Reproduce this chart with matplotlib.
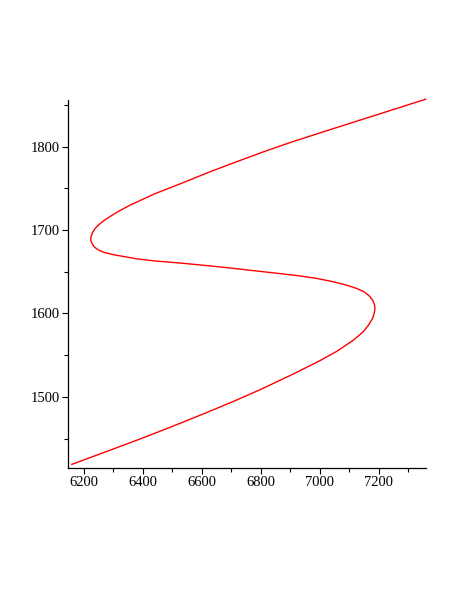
import matplotlib
matplotlib.use("Agg")
import matplotlib.pyplot as plt
from matplotlib.ticker import MultipleLocator

# points, in drawing order (bottom -> top)
x_vals = [6159, 6300, 6402, 6503, 6605, 6707, 6797, 6899, 7001, 7057,
          7114, 7147, 7165, 7179, 7185, 7187, 7185, 7179, 7168, 7150,
          7125, 7090, 7046, 6990, 6933, 6860, 6797, 6684, 6600, 6526,
          6440, 6380, 6340, 6300, 6270, 6250, 6236, 6228, 6223, 6224,
          6229, 6238, 6252, 6270, 6292, 6320, 6357, 6400, 6440, 6537,
          6628, 6718, 6810, 6899, 7035, 7204, 7359]
y_vals = [1419, 1437.5, 1451, 1465, 1479.5, 1494.5, 1508.5, 1525.5, 1543.5, 1554.5,
          1568, 1578, 1586, 1594, 1601, 1606, 1611, 1616, 1621, 1626,
          1630, 1634, 1638, 1642, 1645, 1648, 1650.5, 1655, 1658, 1660.5,
          1663, 1665.5, 1668, 1670.5, 1673, 1676, 1679.5, 1683.5, 1688, 1692,
          1697, 1702, 1707, 1712, 1717, 1723, 1730, 1737, 1743.5, 1757,
          1770, 1782, 1794, 1805, 1820.5, 1839.5, 1857]

x_range = (6147, 7359)
y_range = (1415, 1856)

plt.rcParams["font.family"] = ["Liberation Serif", "DejaVu Serif"]

fig = plt.figure(figsize=(4.63, 5.99), dpi=100)
ax = fig.add_axes([0.1475, 0.2192, 0.7719, 0.6138])

ax.plot(x_vals, y_vals, color="#ff0000", linewidth=1.0,
        solid_joinstyle="round", clip_on=False)

ax.set_xlim(*x_range)
ax.set_ylim(*y_range)

ax.xaxis.set_major_locator(MultipleLocator(200))
ax.xaxis.set_minor_locator(MultipleLocator(100))
ax.yaxis.set_major_locator(MultipleLocator(100))
ax.yaxis.set_minor_locator(MultipleLocator(50))

for side in ("top", "right"):
    ax.spines[side].set_visible(False)
for side in ("left", "bottom"):
    ax.spines[side].set_linewidth(0.9)

ax.tick_params(which="major", direction="out", length=4, width=0.8,
               labelsize=10.5, pad=2)
ax.tick_params(which="minor", direction="out", length=3, width=0.8)

fig.savefig("out.png", dpi=100)
